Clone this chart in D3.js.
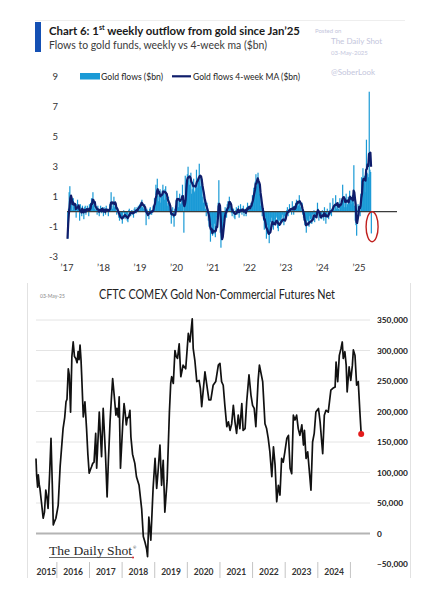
<!DOCTYPE html>
<html>
<head>
<meta charset="utf-8">
<script src="https://cdn.jsdelivr.net/npm/d3@7"></script>
<style>
	body { margin: 0; background: #ffffff; }
	svg { display: block; }
</style>
</head>
<body>
<script>
	// ---- data: weekly flows to gold funds ($bn), one array per year (week ending Fridays)
	var flows2017 = [-1.8, 0.2, 1.3, 1.7, 0.4, 0.9, 0.6, 0.1, 0.9, 0.3, 0.6, 0.2, -0.4, 0.5, 0.8, 0.3, 0.1, -0.6, 0.5, 0.2, -0.3, 0.4, 0.2, -0.5, 0.3, 0.4, -0.2, 0.1, 0.4, 0.2, -0.3, 0.5, 0.1, 0.6, 0.9, 0.4, 1.3, 0.5, 0.2, 0.6, 0.1, 0.3, -0.2, 0.4, 0.1, -0.3, 0.2, 0.4, -0.1, 0.2, 0.3, -0.3];
	var flows2018 = [0.3, 0.1, -0.2, 0.4, 0.2, 0.1, -0.3, 0.2, 0.5, 0.3, 1.3, 0.4, 0.2, 0.6, 1.0, 0.3, 0.6, 0.2, -0.2, 0.3, 0.1, -0.4, -0.6, -0.2, -0.3, -0.5, -0.8, -0.1, 0.1, -0.4, -0.5, -0.2, -0.2, -0.6, -0.7, 0.1, 0.2, -0.3, -0.3, 0.1, 0.1, -0.2, -0.4, 0.2, 0.3, -0.1, -0.1, 0.3, 0.2, 0.4, 0.1, 0.5];
	var flows2019 = [0.6, 0.5, 0.8, 0.3, 0.2, 0.4, 0.5, 0.1, -0.9, 0.2, 0.1, -0.3, -0.5, 0.2, 0.3, -0.2, -0.2, 0.1, 0.4, 0.2, 0.9, 0.6, 1.8, 0.9, 2.2, 1.1, 0.7, 1.3, 1.5, 0.6, 1.0, 1.4, 1.8, 1.2, 0.8, 1.5, 1.7, 0.9, 0.6, 0.4, 1.0, 0.5, 0.2, -0.2, -0.8, 0.1, 0.3, -0.4, -1.0, 0.2, 0.4, 0.8];
	var flows2020 = [1.4, 0.8, 0.3, 0.9, 1.2, 0.5, 0.6, 1.1, 1.8, 0.7, -1.4, 0.4, 2.4, 1.9, 1.6, 2.5, 3.0, 2.1, 1.8, 2.4, 2.6, 1.2, 1.5, 1.9, 2.2, 1.3, 1.4, 1.8, 2.8, 2.0, 1.6, 2.3, 3.2, 2.4, 1.7, 2.1, 2.2, 1.0, 0.6, 1.1, 0.9, 0.2, -0.3, 0.6, 0.2, -0.6, -1.0, -0.5, -2.0, -1.2, -0.9, -1.6];
	var flows2021 = [-1.3, -1.5, -0.8, -1.7, -1.1, -0.4, -0.9, 0.6, 2.1, 0.3, -1.4, -2.4, -1.9, -1.6, -0.8, -0.6, -0.2, 0.3, 0.1, -0.4, 0.5, 0.7, 0.3, 1.0, 0.6, 0.4, -0.1, -0.3, 0.2, 0.2, -0.4, -0.5, 0.1, 0.3, -0.2, 0.1, 0.4, -0.4, -0.1, 0.5, 0.2, -0.2, 0.1, 0.4, -0.3, 0.1, 0.2, -0.3, 0.3, 0.6, 0.1, 0.2, 0.4];
	var flows2022 = [0.2, 0.6, 0.4, 1.1, 0.9, 1.6, 1.3, 2.0, 2.5, 1.7, 2.1, 2.6, 1.9, 1.2, 1.5, 0.4, 0.6, -0.3, 0.2, -0.6, -1.2, -0.4, -0.8, -1.8, -1.5, -0.9, -1.4, -2.1, -1.3, -0.7, -0.4, -1.0, -0.6, -1.2, -0.5, -0.8, -0.9, -0.4, -0.3, -1.1, -1.3, -0.5, -0.6, -0.9, -0.8, -0.4, -0.2, -0.7, -0.9, -0.3, -0.5, -0.2];
	var flows2023 = [0.1, 0.3, -0.3, -0.1, 0.5, 0.2, 0.1, -0.2, 0.7, 0.3, -0.2, 0.4, 0.2, 0.6, 0.8, 0.5, 0.7, 0.4, 1.1, 0.6, 0.3, 0.1, 0.6, -0.2, -0.4, -0.6, -0.9, -0.7, -1.4, -0.5, -0.6, -0.9, -1.0, -0.3, -0.5, -0.8, -0.8, -0.2, -0.2, 0.1, -0.7, -0.4, -0.3, -0.1, 0.6, 0.2, -0.6, -0.3, -0.2, -0.4, -0.5, 0.1];
	var flows2024 = [-0.2, -0.6, 0.3, -0.1, -0.8, -0.4, 0.2, -0.3, -0.5, 0.1, 0.6, -0.2, -0.3, 0.2, 0.9, 0.3, 0.1, 0.4, 1.1, 0.2, 0.4, 0.6, 0.2, 0.1, 0.9, 0.5, 0.4, 0.7, 1.8, 0.8, 0.6, 0.3, 0.9, 1.2, 0.3, 0.5, 1.0, 0.7, 1.4, 0.9, 0.5, 0.8, 1.1, 0.6, 3.1, 0.4, -0.6, -0.9, -1.6, 0.1, 0.5, 0.3];
	var flows2025 = [0.4, -0.3, 1.2, 2.3, 1.6, 2.9, 1.9, 2.4, 1.3, 2.7, 4.8, 2.6, 2.5, 2.3, 8.0, 2.8, 2.65, -1.45];

	var flowTicks = [-3, -1, 1, 3, 5, 7, 9];
	var flowYears = [2017, 2018, 2019, 2020, 2021, 2022, 2023, 2024, 2025];

	// ---- data: CFTC COMEX gold non-commercial net (contracts)
	var cftcYears = [2015.36, 2015.38, 2015.41, 2015.43, 2015.46, 2015.48, 2015.53, 2015.58, 2015.62, 2015.66, 2015.70, 2015.73, 2015.78, 2015.82, 2015.86, 2015.89, 2015.93, 2015.97,
		2016.04, 2016.10, 2016.19, 2016.24, 2016.28, 2016.31, 2016.35, 2016.38, 2016.42, 2016.46, 2016.50, 2016.54, 2016.58, 2016.62, 2016.65, 2016.68, 2016.71, 2016.74, 2016.76, 2016.81, 2016.86, 2016.91, 2016.95, 2016.99,
		2017.03, 2017.06, 2017.10, 2017.14, 2017.19, 2017.22, 2017.30, 2017.37, 2017.42, 2017.49, 2017.54, 2017.58, 2017.63, 2017.67, 2017.71, 2017.76, 2017.81, 2017.84, 2017.88, 2017.91, 2017.95,
		2018.02, 2018.06, 2018.09, 2018.13, 2018.16, 2018.20, 2018.24, 2018.27, 2018.32, 2018.39, 2018.44, 2018.52, 2018.60, 2018.65, 2018.70, 2018.75, 2018.78, 2018.82, 2018.88, 2018.95,
		2019.01, 2019.06, 2019.10, 2019.16, 2019.21, 2019.26, 2019.31, 2019.38, 2019.45, 2019.49, 2019.52, 2019.57, 2019.62, 2019.66, 2019.70, 2019.75, 2019.80, 2019.87, 2019.95,
		2020.03, 2020.08, 2020.15, 2020.18, 2020.23, 2020.29, 2020.36, 2020.40, 2020.44, 2020.54, 2020.59, 2020.66, 2020.72, 2020.79, 2020.87, 2020.95,
		2021.00, 2021.05, 2021.10, 2021.15, 2021.21, 2021.26, 2021.31, 2021.36, 2021.41, 2021.46, 2021.51, 2021.56, 2021.61, 2021.67, 2021.71, 2021.77, 2021.82, 2021.89, 2021.95,
		2022.00, 2022.05, 2022.10, 2022.17, 2022.21, 2022.31, 2022.38, 2022.43, 2022.48, 2022.53, 2022.59, 2022.64, 2022.69, 2022.74, 2022.79, 2022.84, 2022.89, 2022.94, 2022.99,
		2023.05, 2023.10, 2023.15, 2023.20, 2023.25, 2023.30, 2023.35, 2023.40, 2023.45, 2023.51, 2023.56, 2023.59, 2023.64, 2023.69, 2023.76, 2023.79, 2023.84, 2023.89, 2023.94,
		2024.02, 2024.07, 2024.12, 2024.15, 2024.20, 2024.25, 2024.32, 2024.40, 2024.46, 2024.53, 2024.56, 2024.61, 2024.66, 2024.71, 2024.75, 2024.78, 2024.83, 2024.87, 2024.90, 2024.96,
		2025.01, 2025.06, 2025.09, 2025.14, 2025.19, 2025.24, 2025.29, 2025.33];
	var cftcValues = [123000, 95000, 76000, 96000, 80000, 74000, 50000, 25000, 35000, 71000, 58000, 41000, 100000, 156000, 80000, 14000, 20000, 25000,
		46000, 110000, 172000, 190000, 216000, 220000, 270000, 260000, 199000, 290000, 314000, 290000, 287000, 280000, 298000, 285000, 309000, 285000, 260000, 191000, 216000, 172000, 130000, 99000,
		105000, 109000, 115000, 117000, 164000, 107000, 199000, 126000, 205000, 130000, 60000, 120000, 183000, 220000, 254000, 225000, 194000, 205000, 191000, 224000, 107000,
		180000, 213000, 200000, 178000, 190000, 190000, 202000, 158000, 130000, 115000, 93000, 79000, 40000, -5000, -14000, -25000, -38000, 27000, -11000, 74000,
		123000, 74000, 100000, 145000, 79000, 120000, 35000, 87000, 199000, 246000, 257000, 246000, 300000, 290000, 287000, 311000, 257000, 276000, 270000,
		328000, 314000, 352000, 303000, 284000, 249000, 251000, 238000, 208000, 265000, 246000, 219000, 219000, 243000, 249000, 276000,
		279000, 249000, 243000, 210000, 175000, 183000, 169000, 180000, 210000, 183000, 164000, 194000, 172000, 213000, 169000, 172000, 216000, 260000, 227000,
		210000, 205000, 175000, 251000, 276000, 249000, 180000, 172000, 156000, 134000, 93000, 142000, 112000, 52000, 79000, 63000, 123000, 117000, 134000,
		156000, 161000, 107000, 98000, 194000, 186000, 194000, 172000, 161000, 178000, 145000, 169000, 123000, 134000, 90000, 71000, 150000, 164000, 199000,
		205000, 183000, 150000, 131000, 194000, 202000, 199000, 235000, 238000, 240000, 281000, 249000, 292000, 303000, 314000, 287000, 298000, 276000, 232000, 273000,
		251000, 276000, 301000, 292000, 243000, 249000, 199000, 163000];

	var cftcTicks = [-50000, 0, 50000, 100000, 150000, 200000, 250000, 300000, 350000];
	var cftcYearLabels = [2015, 2016, 2017, 2018, 2019, 2020, 2021, 2022, 2023, 2024];

	var font = "Lato, 'Open Sans', sans-serif";

	// set SVG canvass
	var svg = d3.select("body")
		.append("svg")
			.attr("width", 431)
			.attr("height", 599)
			.style("font-family", font);

	// =================== top chart ===================
	svg.append("line")
		.attr("x1", 35).attr("x2", 405)
		.attr("y1", 20.5).attr("y2", 20.5)
		.attr("stroke", "#eeeeee");

	svg.append("rect")
		.attr("x", 35).attr("y", 22)
		.attr("width", 6).attr("height", 30)
		.attr("fill", "#1450b4");

	// title: one text element, superscript as a tspan
	var title = svg.append("text")
		.attr("x", 49).attr("y", 34.5)
		.attr("font-size", "11.4px")
		.attr("font-weight", "bold")
		.attr("fill", "#1a1a1a");
	title.append("tspan").text("Chart 6: 1");
	title.append("tspan").attr("font-size", "7px").attr("dy", -4.5).text("st");
	title.append("tspan").attr("dy", 4.5).text(" weekly outflow from gold since Jan\u201925");

	svg.append("text")
		.attr("x", 49).attr("y", 49)
		.attr("font-size", "12px")
		.attr("textLength", 218)
		.attr("lengthAdjust", "spacingAndGlyphs")
		.attr("fill", "#3a3a3a")
		.text("Flows to gold funds, weekly vs 4-week ma ($bn)");

	// watermark
	var wm = [
		{ t: "Posted on", x: 315, y: 33, s: 6 },
		{ t: "The Daily Shot", x: 331, y: 44, s: 8 },
		{ t: "03-May-2025", x: 331, y: 55, s: 6 },
		{ t: "@SoberLook", x: 331, y: 75, s: 8 }
	];
	svg.selectAll(".wm")
		.data(wm)
		.enter().append("text")
			.attr("class", "wm")
			.attr("x", function(d){ return d.x; })
			.attr("y", function(d){ return d.y; })
			.attr("font-size", function(d){ return d.s + "px"; })
			.attr("fill", "#c4c6dc")
			.text(function(d){ return d.t; });

	// scales
	var weekStart = new Date(2017, 0, 6);
	var flows = [].concat(flows2017, flows2018, flows2019, flows2020, flows2021, flows2022, flows2023, flows2024, flows2025);
	var flowData = flows.map(function(v, i){
		return { date: d3.timeDay.offset(weekStart, 7 * i), value: v, ma: d3.mean(flows.slice(Math.max(0, i - 3), i + 1)) };
	});

	var xT = d3.scaleTime()
		.domain([new Date(2017, 0, 1), new Date(2025, 0, 1)])
		.range([67, 359]);
	var yT = d3.scaleLinear()
		.domain([-3, 9])
		.range([256.7, 76.7]);
	var barW = xT(d3.timeDay.offset(weekStart, 7)) - xT(weekStart);

	// y labels
	svg.selectAll(".ytT")
		.data(flowTicks)
		.enter().append("text")
			.attr("class", "ytT")
			.attr("x", 58)
			.attr("y", function(d){ return yT(d) + 3.5; })
			.attr("text-anchor", "end")
			.attr("font-size", "9.5px")
			.attr("fill", "#333")
			.text(function(d){ return d; });

	// x labels
	svg.selectAll(".xtT")
		.data(flowYears)
		.enter().append("text")
			.attr("class", "xtT")
			.attr("x", function(d){ return xT(new Date(d, 0, 1)); })
			.attr("y", 271)
			.attr("text-anchor", "middle")
			.attr("font-size", "9.5px")
			.attr("fill", "#333")
			.text(function(d){ return "\u2019" + String(d).slice(2); });

	// bars
	svg.selectAll(".flowbar")
		.data(flowData)
		.enter().append("rect")
			.attr("class", "flowbar")
			.attr("fill", "#1a9ad6")
			.attr("x", function(d){ return xT(d.date) - barW / 2; })
			.attr("width", barW + 0.5)
			.attr("y", function(d){ return yT(Math.max(0, d.value)); })
			.attr("height", function(d){ return Math.abs(yT(d.value) - yT(0)); });

	// zero line
	svg.append("line")
		.attr("x1", 67).attr("x2", 397)
		.attr("y1", yT(0)).attr("y2", yT(0))
		.attr("stroke", "#3c3c3c")
		.attr("stroke-width", 1.2);

	// 4-week MA
	svg.append("path")
		.datum(flowData)
		.attr("fill", "none")
		.attr("stroke", "#0f1d6b")
		.attr("stroke-width", 2.2)
		.attr("stroke-linejoin", "round")
		.attr("d", d3.line()
			.x(function(d){ return xT(d.date); })
			.y(function(d){ return yT(d.ma); }));

	// red ellipse round the last week
	var lastFlow = flowData[flowData.length - 1];
	svg.append("ellipse")
		.attr("cx", xT(lastFlow.date) + 1)
		.attr("cy", yT(-1))
		.attr("rx", 6)
		.attr("ry", (yT(-2) - yT(0)) / 2)
		.attr("fill", "none")
		.attr("stroke", "#c0201e")
		.attr("stroke-width", 1.4);

	// legend
	svg.append("rect")
		.attr("x", 80).attr("y", 73)
		.attr("width", 20).attr("height", 6.5)
		.attr("fill", "#1a9ad6");
	svg.append("text")
		.attr("x", 101).attr("y", 79.5)
		.attr("font-size", "10px")
		.attr("textLength", 62)
		.attr("lengthAdjust", "spacingAndGlyphs")
		.attr("fill", "#222")
		.text("Gold flows ($bn)");
	svg.append("line")
		.attr("x1", 172).attr("x2", 191)
		.attr("y1", 76.3).attr("y2", 76.3)
		.attr("stroke", "#0f1d6b")
		.attr("stroke-width", 2.2);
	svg.append("text")
		.attr("x", 193).attr("y", 79.5)
		.attr("font-size", "10px")
		.attr("textLength", 107)
		.attr("lengthAdjust", "spacingAndGlyphs")
		.attr("fill", "#222")
		.text("Gold flows 4-week MA ($bn)");

	// =================== bottom chart ===================
	var xB = d3.scaleLinear()
		.domain([2015.36, 2025.6])
		.range([36, 370]);
	var yB = d3.scaleLinear()
		.domain([-50000, 350000])
		.range([564, 320]);

	// frame
	svg.append("line")
		.attr("x1", 27.5).attr("x2", 27.5)
		.attr("y1", 283).attr("y2", 578)
		.attr("stroke", "#e2e2e2");
	svg.append("line")
		.attr("x1", 410.5).attr("x2", 410.5)
		.attr("y1", 283).attr("y2", 578)
		.attr("stroke", "#e2e2e2");

	svg.append("text")
		.attr("x", 40).attr("y", 298)
		.attr("font-size", "5px")
		.attr("fill", "#888")
		.text("03-May-25");

	svg.append("text")
		.attr("x", 99).attr("y", 299)
		.attr("font-size", "12.5px")
		.attr("textLength", 236)
		.attr("lengthAdjust", "spacingAndGlyphs")
		.attr("fill", "#222")
		.text("CFTC COMEX Gold Non-Commercial Futures Net");

	// gridlines
	svg.selectAll(".gridB")
		.data(cftcTicks.filter(function(d){ return d > 0; }))
		.enter().append("line")
			.attr("class", "gridB")
			.attr("x1", 36).attr("x2", 370)
			.attr("y1", function(d){ return yB(d); })
			.attr("y2", function(d){ return yB(d); })
			.attr("stroke", "#e4e4e4");
	svg.append("line")
		.attr("x1", 36).attr("x2", 370)
		.attr("y1", yB(0)).attr("y2", yB(0))
		.attr("stroke", "#b4b4b4")
		.attr("stroke-width", 2);

	// y labels
	svg.selectAll(".ytB")
		.data(cftcTicks)
		.enter().append("text")
			.attr("class", "ytB")
			.attr("x", 377)
			.attr("y", function(d){ return yB(d) + 3; })
			.attr("font-size", "8.3px")
			.attr("font-weight", "bold")
			.attr("fill", "#222")
			.text(function(d){ return d3.format(",")(d); });

	// year separators + labels
	svg.selectAll(".sepB")
		.data(cftcYearLabels.slice(1).concat([2025]))
		.enter().append("line")
			.attr("class", "sepB")
			.attr("x1", function(d){ return xB(d); })
			.attr("x2", function(d){ return xB(d); })
			.attr("y1", 562).attr("y2", 578)
			.attr("stroke", "#c4c4c4");
	svg.selectAll(".xtB")
		.data(cftcYearLabels)
		.enter().append("text")
			.attr("class", "xtB")
			.attr("x", function(d){ return d === 2015 ? (xB(2015.36) + xB(2016)) / 2 : xB(d + 0.5); })
			.attr("y", 575)
			.attr("text-anchor", "middle")
			.attr("font-size", "8.5px")
			.attr("font-weight", "bold")
			.attr("fill", "#333")
			.text(function(d){ return d; });

	// net positions line
	var cftcData = cftcYears.map(function(y, i){ return { year: y, value: cftcValues[i] }; });
	svg.append("path")
		.datum(cftcData)
		.attr("fill", "none")
		.attr("stroke", "#111")
		.attr("stroke-width", 1.7)
		.attr("stroke-linejoin", "round")
		.attr("d", d3.line()
			.x(function(d){ return xB(d.year); })
			.y(function(d){ return yB(d.value); }));

	var lastC = cftcData[cftcData.length - 1];
	svg.append("circle")
		.attr("cx", xB(lastC.year))
		.attr("cy", yB(lastC.value))
		.attr("r", 3)
		.attr("fill", "#e31b1b");

	// The Daily Shot logo
	svg.append("text")
		.attr("x", 49).attr("y", 555)
		.attr("font-family", "'Liberation Serif', 'DejaVu Serif', serif")
		.attr("font-size", "13px")
		.attr("textLength", 83)
		.attr("lengthAdjust", "spacingAndGlyphs")
		.attr("fill", "#2a2a2a")
		.text("The Daily Shot");
	svg.append("text")
		.attr("x", 133).attr("y", 549)
		.attr("font-size", "4px")
		.attr("fill", "#2a2a2a")
		.text("\u00ae");
	svg.append("line")
		.attr("x1", 49).attr("x2", 132)
		.attr("y1", 557.5).attr("y2", 557.5)
		.attr("stroke", "#444")
		.attr("stroke-width", 0.8);
	svg.append("circle")
		.attr("cx", 133).attr("cy", 557.5)
		.attr("r", 1)
		.attr("fill", "#d21d2a");
</script>
</body>
</html>
